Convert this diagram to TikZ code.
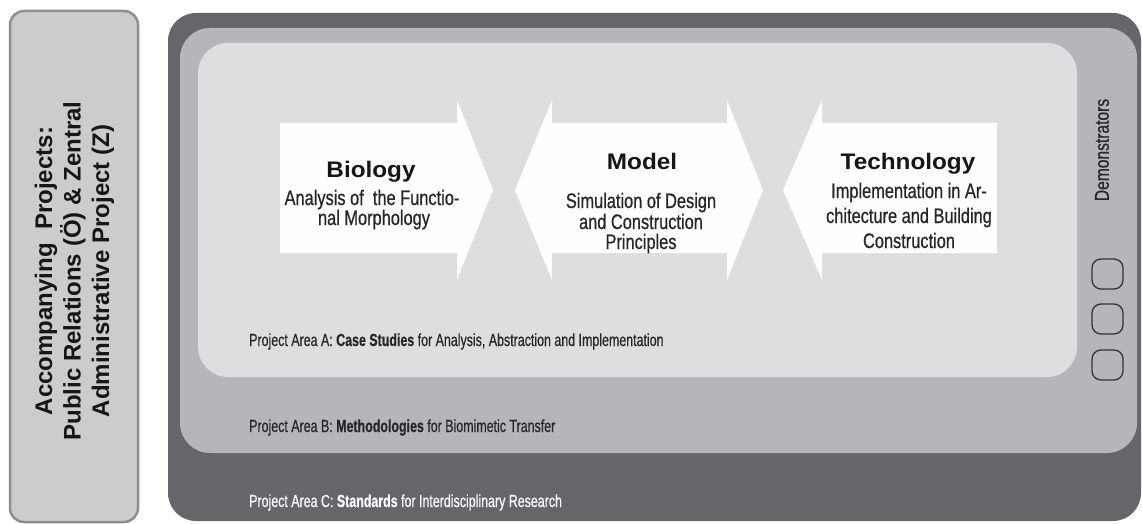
\documentclass[tikz,border=0pt]{standalone}
\usepackage{fontspec}
\setmainfont{Liberation Sans}
\newfontfamily\condfont[FakeStretch=0.78, FakeBold=0.6]{Liberation Sans}
\newfontfamily\areafont[FakeStretch=0.71, FakeBold=0.5]{Liberation Sans}
\newfontfamily\titlefont[FakeStretch=1.08]{Liberation Sans}
\definecolor{darkband}{HTML}{646669}
\definecolor{midband}{HTML}{B4B6B9}
\definecolor{lightband}{HTML}{DCDEE0}
\definecolor{leftfill}{HTML}{CBCCCD}
\definecolor{leftborder}{HTML}{8E8F90}
\definecolor{arrowfill}{HTML}{FEFEFE}
\definecolor{titletext}{HTML}{161616}
\definecolor{subtext}{HTML}{262626}
\tikzset{
  titlestyle/.style={font=\titlefont\bfseries\fontsize{22.5}{26}\selectfont, text=titletext, anchor=base, inner sep=0pt},
  substyle/.style={font=\condfont\fontsize{21}{24}\selectfont, text=subtext, anchor=base, inner sep=0pt},
  areastyle/.style={font=\areafont\fontsize{17.5}{20}\selectfont, anchor=base west, inner sep=0pt},
  arrowshape/.style={fill=arrowfill, draw=none},
  demobox/.style={draw=black!80, line width=1.3pt, rounded corners=9pt}
}
\begin{document}
\begin{tikzpicture}[x=1pt, y=-1pt]
\useasboundingbox[fill=white] (0,0) rectangle (1142,524);
% left box
\draw[fill=leftfill, draw=leftborder, line width=2.5pt, rounded corners=14pt] (10,11) rectangle (138,522);
\node[rotate=90, align=center, text=titletext, font=\bfseries\fontsize{24}{28.5}\selectfont] (acc) at (74.5,271)
  {Accompanying~ Projects:\\Public Relations (Ö) \& Zentral\\Administrative Project (Z)};
% nested areas
\fill[darkband, rounded corners=28pt] (168,13) rectangle (1141,521);
\fill[midband, rounded corners=30pt] (180,28) rectangle (1137,453);
\fill[lightband, rounded corners=30pt] (198,43) rectangle (1077,377);
% arrows
\fill[arrowshape] (280,123) -- (457,123) -- (457,100) -- (493,190) -- (457,280) -- (457,253) -- (280,253) -- cycle;
\fill[arrowshape] (515,190) -- (552,100) -- (552,123) -- (727,123) -- (727,100) -- (763,190) -- (727,280) -- (727,253) -- (552,253) -- (552,280) -- cycle;
\fill[arrowshape] (783,190) -- (822,100) -- (822,123) -- (997,123) -- (997,253) -- (822,253) -- (822,280) -- cycle;
% Biology
\node[titlestyle] (biot) at (371,177) {Biology};
\node[substyle] (bio1) at (372,205) {Analysis of~ the Functio-};
\node[substyle] (bio2) at (374,225) {nal Morphology};
% Model
\node[titlestyle] (modt) at (642,169) {Model};
\node[substyle] (mod1) at (641,208) {Simulation of Design};
\node[substyle] (mod2) at (641,229) {and Construction};
\node[substyle] (mod3) at (641,249) {Principles};
% Technology
\node[titlestyle] (tect) at (908,169) {Technology};
\node[substyle] (tec1) at (909,198) {Implementation in Ar-};
\node[substyle] (tec2) at (909,223) {chitecture and Building};
\node[substyle] (tec3) at (909,248) {Construction};
% project areas
\node[areastyle, text=subtext] (pa) at (249,346) {Project Area A: \textbf{Case Studies} for Analysis, Abstraction and Implementation};
\node[areastyle, text=subtext] (pb) at (249,432) {Project Area B: \textbf{Methodologies} for Biomimetic Transfer};
\node[areastyle, text=white] (pc) at (249,507) {Project Area C: \textbf{Standards} for Interdisciplinary Research};
% demonstrators
\node[rotate=90, font=\condfont\fontsize{20}{24}\selectfont, text=subtext, inner sep=0pt] (demo) at (1102,150) {Demonstrators};
\draw[demobox] (1092,259) rectangle (1123,289);
\draw[demobox] (1092,304) rectangle (1123,334);
\draw[demobox] (1092,350) rectangle (1123,380);
\end{tikzpicture}
\end{document}
